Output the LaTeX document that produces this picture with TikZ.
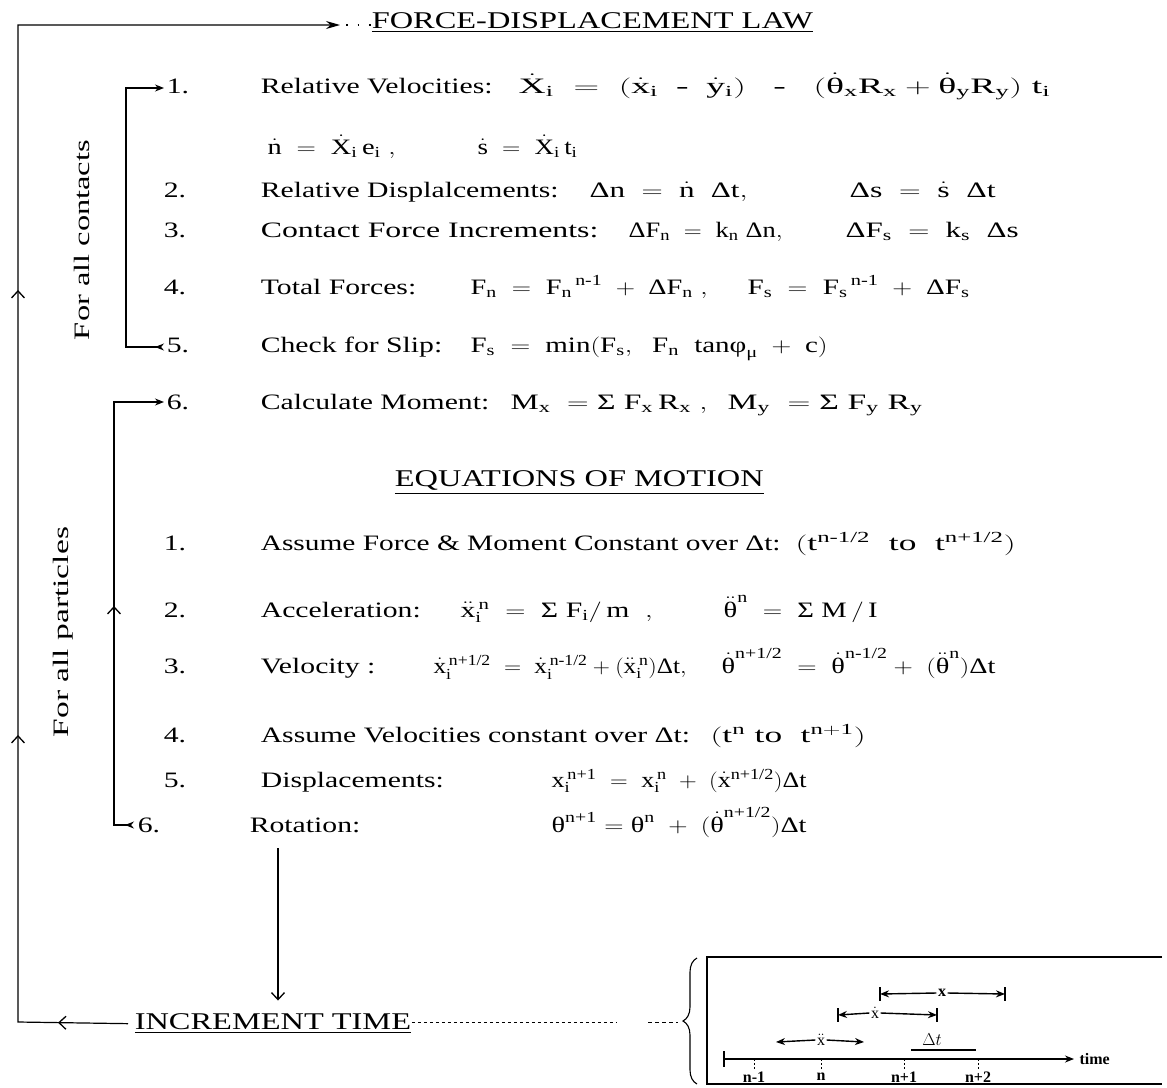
\documentclass[tikz,border=0pt]{standalone}
\usepackage{amsmath}
\usepackage{fontspec}
\setmainfont{Liberation Serif}
\usetikzlibrary{arrows.meta,decorations.markings,decorations.pathreplacing}

\newcommand{\Dlt}{\text{Δ}}
\newcommand{\Sgm}{\text{Σ}}
\newcommand{\thv}{\text{θ}}
\newcommand{\dt}[1]{\dot{\mathrm{#1}}}
\newcommand{\ddt}[1]{\ddot{\mathrm{#1}}}
\newcommand{\mn}{\mathbin{\text{-}}}
\newcommand{\fit}[2]{\resizebox{#1pt}{\height}{#2}}

\tikzset{
  barb/.tip={Straight Barb[length=7pt,width=13pt,line width=1.3pt]},
  head tip/.tip={Stealth[length=14pt,width=8pt]},
  small tip/.tip={Stealth[length=9pt,width=7pt]},
}

\begin{document}
\begin{tikzpicture}[x=1pt,y=-1pt,line width=1.2pt,
  eqn/.style={font=\fontsize{22}{26}\selectfont, inner sep=0pt, anchor=base west},
  txt/.style={eqn, xscale=1.35, transform shape},
  heading/.style={txt, font=\fontsize{24}{28}\selectfont},
  sidelbl/.style={font=\fontsize{22}{26}\selectfont, rotate=90, inner sep=0pt},
  numlbl/.style={txt},
  insetlbl/.style={font=\fontsize{16}{18}\selectfont\bfseries, inner sep=1pt},
  flow/.style={line width=1.2pt}]
\useasboundingbox (0,0) rectangle (1167,1087);

% headings
\node[heading] (hd) at (371,28) {\underline{FORCE-DISPLACEMENT LAW}};
\node[heading] (eq) at (394,486) {\underline{EQUATIONS OF MOTION}};
\node[heading] (inc) at (134,1029) {\underline{INCREMENT TIME}};

% force-displacement law
\node[numlbl] (n1) at (166,93) {1.};
\node[txt] (r1t) at (260,93) {Relative Velocities:};
\node[eqn] (r1a) at (518,93) {\fit{532}{$\dt{X}_\mathrm{i}\;=\;(\dt{x}_\mathrm{i}\;\mn\;\dt{y}_\mathrm{i})\;\;\mn\;\;(\dot{\thv}_\mathrm{x}\mathrm{R_x}+\dot{\thv}_\mathrm{y}\mathrm{R_y})\;\mathrm{t_i}$}};
\node[eqn] (rna) at (267,154) {\fit{128}{$\dt{n}\;=\;\dt{X}_\mathrm{i}\,\mathrm{e_i}\;,$}};
\node[eqn] (rnb) at (477,154) {\fit{100}{$\dt{s}\;=\;\dt{X}_\mathrm{i}\,\mathrm{t_i}$}};
\node[numlbl] (n2) at (163,197) {2.};
\node[txt] (r2t) at (260,197) {Relative Displalcements:};
\node[eqn] (r2a) at (589,197) {\fit{158}{$\Dlt\mathrm{n}\;=\;\dt{n}\;\;\Dlt\mathrm{t},$}};
\node[eqn] (r2b) at (849,197) {\fit{146}{$\Dlt\mathrm{s}\;=\;\dt{s}\;\;\Dlt\mathrm{t}$}};
\node[numlbl] (n3) at (163,237) {3.};
\node[txt] (r3t) at (260,237) {\fit{250}{Contact Force Increments:}};
\node[eqn] (r3a) at (628,237) {\fit{154}{$\Dlt\mathrm{F_n}\;=\;\mathrm{k_n}\;\Dlt\mathrm{n},$}};
\node[eqn] (r3b) at (845,237) {\fit{173}{$\Dlt\mathrm{F_s}\;=\;\mathrm{k_s}\;\;\Dlt\mathrm{s}$}};
\node[numlbl] (n4) at (163,294) {4.};
\node[txt] (r4t) at (260,294) {Total Forces:};
\node[eqn] (r4a) at (470,294) {\fit{237}{$\mathrm{F_n}\;=\;\mathrm{F_n}^{\,\text{n-1}}\;+\;\Dlt\mathrm{F_n}\;,$}};
\node[eqn] (r4b) at (747,294) {\fit{222}{$\mathrm{F_s}\;=\;\mathrm{F_s}^{\,\text{n-1}}\;+\;\Dlt\mathrm{F_s}$}};
\node[numlbl] (n5) at (166,352) {5.};
\node[txt] (r5t) at (260,352) {Check for Slip:};
\node[eqn] (r5a) at (470,352) {\fit{357}{$\mathrm{F_s\;=\;min(F_s,\;\;F_n\;\;tan}\text{φ}_{\text{μ}}\;+\;\mathrm{c)}$}};
\node[numlbl] (n6) at (166,409) {6.};
\node[txt] (r6t) at (260,409) {Calculate Moment:};
\node[eqn] (r6a) at (510,409) {\fit{197}{$\mathrm{M_x\;=\;}\Sgm\;\mathrm{F_x\,R_x\;,}$}};
\node[eqn] (r6b) at (727,409) {\fit{195}{$\mathrm{M_y\;=\;}\Sgm\;\mathrm{F_y\;R_y}$}};

% equations of motion
\node[numlbl] (m1) at (163,550) {1.};
\node[txt] (e1t) at (260,550) {\fit{385}{Assume Force \& Moment Constant over Δt:}};
\node[eqn] (e1a) at (795,550) {\fit{220}{$(\mathrm{t}^{\text{n-1/2}}\;\;\mathrm{to}\;\;\mathrm{t}^{\text{n+1/2}})$}};
\node[numlbl] (m2) at (163,617) {2.};
\node[txt] (e2t) at (260,617) {Acceleration:};
\node[eqn] (e2a) at (460,617) {\fit{192}{$\ddt{x}_\mathrm{i}^{\,\mathrm{n}}\;=\;\Sgm\;\mathrm{F_i/\,m\;\;,}$}};
\node[eqn] (e2b) at (723,617) {\fit{154}{$\ddot{\thv}^{\mathrm{n}}\;=\;\Sgm\;\mathrm{M\,/\,I}$}};
\node[numlbl] (m3) at (163,673) {3.};
\node[txt] (e3t) at (260,673) {Velocity :};
\node[eqn] (e3a) at (433,673) {\fit{253}{$\dt{x}_\mathrm{i}^{\,\text{n+1/2}}\;=\;\dt{x}_\mathrm{i}^{\,\text{n-1/2}}+(\ddt{x}_\mathrm{i}^{\,\mathrm{n}})\Dlt\mathrm{t},$}};
\node[eqn] (e3b) at (721,673) {\fit{274}{$\dot{\thv}^{\text{n+1/2}}\;=\;\dot{\thv}^{\text{n-1/2}}+\;(\ddot{\thv}^{\mathrm{n}})\Dlt\mathrm{t}$}};
\node[numlbl] (m4) at (163,742) {4.};
\node[txt] (e4t) at (260,742) {\fit{318}{Assume Velocities constant over Δt:}};
\node[eqn] (e4a) at (710,742) {\fit{155}{$(\mathrm{t^n\;to\;\;t^{n+1}})$}};
\node[numlbl] (m5) at (163,787) {5.};
\node[txt] (e5t) at (260,787) {Displacements:};
\node[eqn] (e5a) at (551,787) {\fit{255}{$\mathrm{x}_\mathrm{i}^{\,\text{n+1}}\;=\;\mathrm{x}_\mathrm{i}^{\,\mathrm{n}}\;+\;(\dt{x}^{\text{n+1/2}})\Dlt\mathrm{t}$}};
\node[numlbl] (m6) at (137,832) {6.};
\node[txt] (e6t) at (249,832) {Rotation:};
\node[eqn] (e6a) at (551,832) {\fit{255}{$\thv^{\text{n+1}}=\thv^{\mathrm{n}}\;+\;(\dot{\thv}^{\text{n+1/2}})\Dlt\mathrm{t}$}};

% side labels
\node[sidelbl] (lc) at (82,240) {\fit{200}{For all contacts}};
\node[sidelbl] (lp) at (63,632) {\fit{210}{For all particles}};

% outer loop
\coordinate (obl) at (18,1022);
\coordinate (otl) at (18,25);
\coordinate (hdarr) at (340,25);
\draw[flow, -{head tip}, postaction={decorate}, decoration={markings,
    mark=at position 70pt with {\arrow{barb}},
    mark=at position 397pt with {\arrow{barb}},
    mark=at position 842pt with {\arrow{barb}}}]
  ([xshift=-6pt]inc.west) -- (obl) -- (otl) -- (hdarr);
\draw[line width=1.3pt, dash pattern=on 1.5pt off 10pt, dash phase=-6pt] (hdarr) -- (hd.west |- hdarr);

% contacts loop
\coordinate (ct) at (126,88);
\coordinate (cb) at (126,347);
\draw[flow, {small tip[reversed]}-{small tip}, shorten <=2pt, shorten >=2pt]
  (n5.west |- cb) -- (cb) -- (ct) -- (n1.west |- ct);

% particles loop
\coordinate (pt) at (114,402);
\coordinate (pb) at (114,825);
\draw[flow, {small tip[reversed]}-{small tip}, shorten <=3pt, shorten >=2pt,
    postaction={decorate}, decoration={markings, mark=at position 242pt with {\arrow{barb}}}]
  (m6.west |- pb) -- (pb) -- (pt) -- (n6.west |- pt);

% down to increment time
\coordinate (dtop) at (278,848);
\draw[flow, -{barb}, shorten >=12pt] (dtop) -- (dtop |- inc.north);

% link to inset
\coordinate (dsh) at (616,1022);
\draw[line width=1pt, dashed] (inc.east |- dsh) -- (dsh);
\coordinate (bra) at (648,1022);
\coordinate (brb) at (678,1022);
\draw[line width=1pt, dash pattern=on 4pt off 3pt] (bra) -- (brb);
\draw[line width=1.1pt, decorate, decoration={brace, amplitude=14pt}] (697,1084) -- (697,958);

% inset frame
\draw[line width=1.1pt] (1162,957) -- (707,957) -- (707,1084) -- (1162,1084);

% time axis
\coordinate (t0) at (724,1059);
\coordinate (t1) at (1074,1059);
\draw[line width=1.4pt, -{small tip}] (t0) -- (t1);
\draw[line width=1.4pt] (724,1051) -- (724,1067);
\node[insetlbl, anchor=west] (tm) at (1078,1059) {time};
\foreach \tx/\tl/\tn in {754/n-1/ta,821/n/tb,904/n+1/tc,978/n+2/td} {
  \draw[line width=0.8pt, dash pattern=on 2pt off 2pt] (\tx,1059) -- (\tx,1069);
  \node[insetlbl] (\tn) at (\tx,1077) {\tl};
}
\node[insetlbl] (dt) at (932,1040) {$\Delta t$};
\draw[line width=1.4pt] (911,1050) -- (976,1050);

% accel, velocity, position spans
\node[insetlbl] (ax) at (821,1040) {$\ddot{\mathrm{x}}$};
\coordinate (axl) at (776,1042);
\coordinate (axr) at (864,1042);
\draw[line width=1.4pt, -{small tip}] (ax.west) -- (axl);
\draw[line width=1.4pt, -{small tip}] (ax.east) -- (axr);
\node[insetlbl] (vx) at (875,1013) {$\dot{\mathrm{x}}$};
\coordinate (vxl) at (838,1015);
\coordinate (vxr) at (937,1015);
\draw[line width=1.4pt, -{small tip}] (vx.west) -- (vxl);
\draw[line width=1.4pt, -{small tip}] (vx.east) -- (vxr);
\draw[line width=1.4pt] (vxl) ++(0,-7) -- ++(0,14);
\draw[line width=1.4pt] (vxr) ++(0,-7) -- ++(0,14);
\node[insetlbl] (px) at (942,993) {x};
\coordinate (pxl) at (880,994);
\coordinate (pxr) at (1005,994);
\draw[line width=1.4pt, -{small tip}] (px.west) -- (pxl);
\draw[line width=1.4pt, -{small tip}] (px.east) -- (pxr);
\draw[line width=1.4pt] (pxl) ++(0,-7) -- ++(0,14);
\draw[line width=1.4pt] (pxr) ++(0,-7) -- ++(0,14);
\end{tikzpicture}
\end{document}
